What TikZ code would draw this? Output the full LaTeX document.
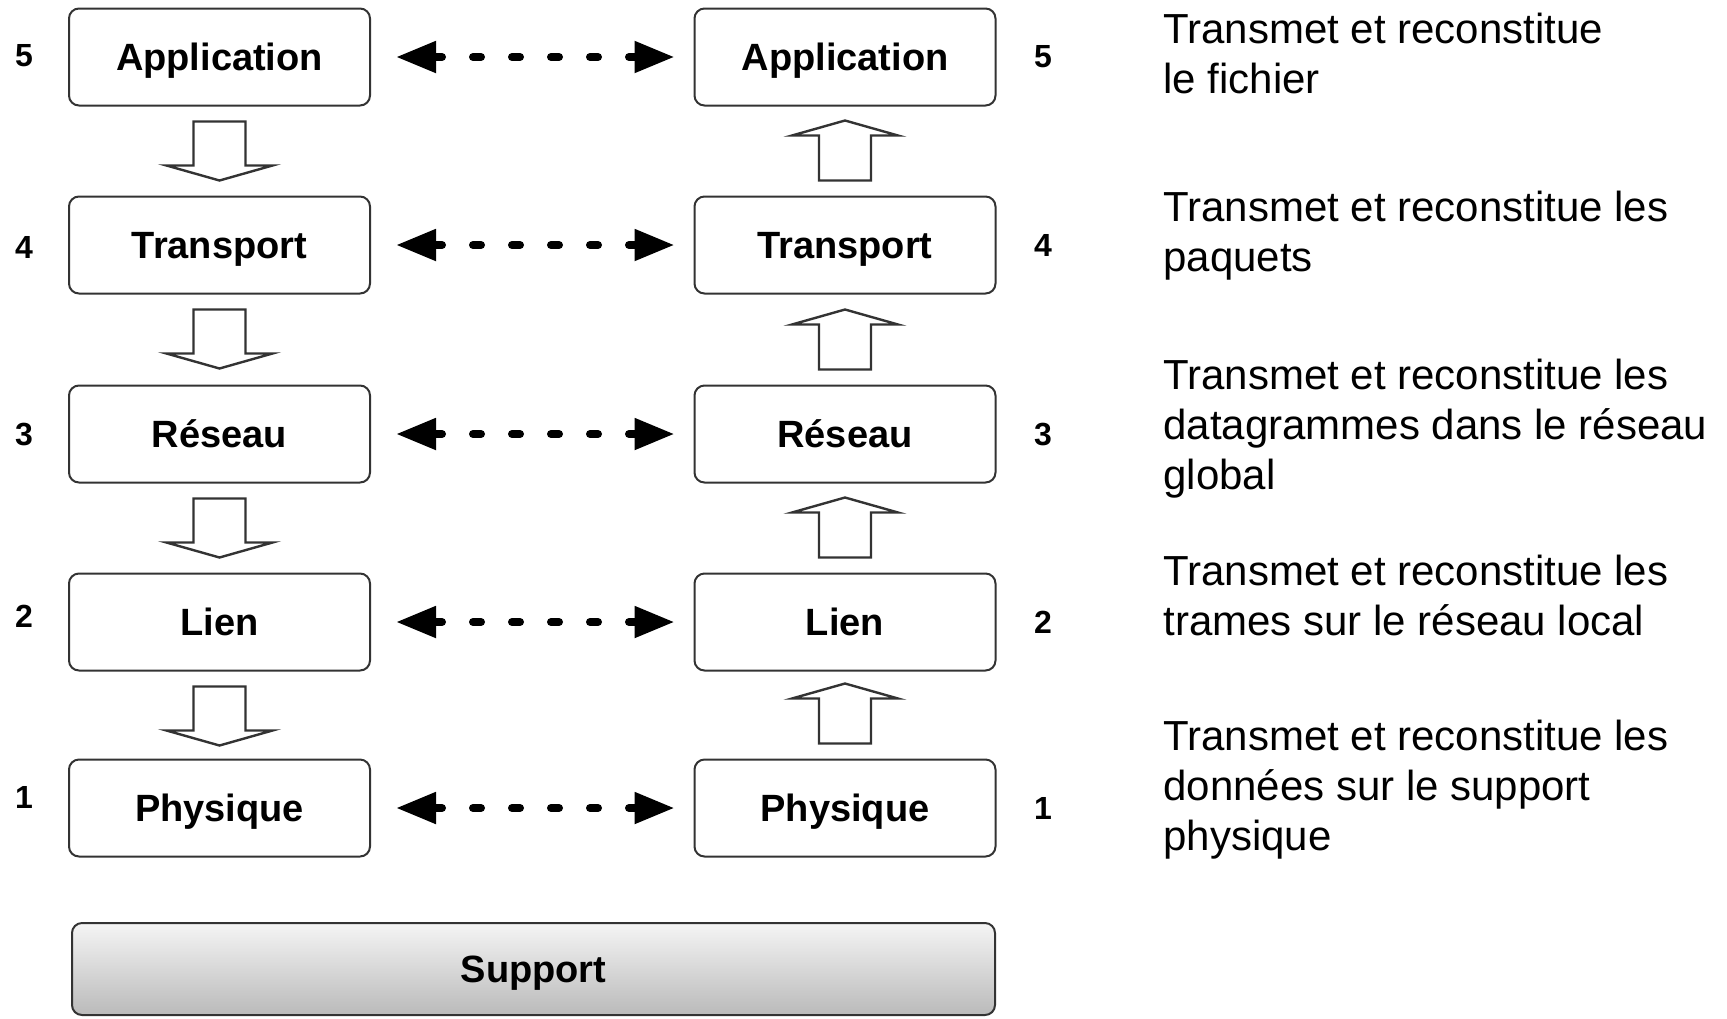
\documentclass[tikz,border=0pt]{standalone}
\usepackage{fontspec}
\setmainfont{Liberation Sans}
\usetikzlibrary{arrows.meta}
\begin{document}
\begin{tikzpicture}[x=0.5pt,y=-0.5pt,
  layer/.style={draw=black!80,line width=1pt,rounded corners=5pt,minimum width=150.5pt,minimum height=48.5pt,outer sep=0pt,text depth=0pt,font=\fontsize{19pt}{22pt}\selectfont\bfseries},
  num/.style={font=\fontsize{16pt}{18pt}\selectfont\bfseries},
  desc/.style={anchor=base west,align=left,inner sep=0pt,font=\fontsize{21pt}{25pt}\selectfont},
  peer/.style={line width=4pt,line cap=round,dash pattern=on 4pt off 15.5pt,{Triangle[length=20pt,width=15pt]}-{Triangle[length=20pt,width=15pt]}},
  blockarrow/.style={draw=black!80,line width=1.2pt,fill=white,line join=miter}]
\useasboundingbox (0,0) rectangle (1727,1018);
\foreach \n/\name/\y/\ny in {5/Application/57/56,4/Transport/245/247,3/Réseau/434/434,2/Lien/622/616,1/Physique/808/797}{
  \node[layer] (L\n) at (219.5,\y) {\name};
  \node[layer] (R\n) at (845,\y) {\name};
  \node[num] (nl\n) at (24,\ny) {\n};
  \node[num] (nr\n) at (1043,\y) {\n};
  \draw[peer] ([xshift=13pt]L\n.east) -- ([xshift=-10pt]R\n.west);
}
\foreach \n in {5,4,3,2}
  \draw[blockarrow] (L\n.south) ++(-26,16) -- ++(0,44) -- ++(-27,0) -- ++(53,15) -- ++(53,-15) -- ++(-27,0) -- ++(0,-44) -- cycle;
\foreach \n in {4,3,2,1}
  \draw[blockarrow] (R\n.north) ++(-26,-16) -- ++(0,-45) -- ++(-27,0) -- ++(53,-15) -- ++(53,15) -- ++(-27,0) -- ++(0,45) -- cycle;
\node[layer,minimum width=461.5pt,minimum height=46pt,top color=black!4,bottom color=black!27] (sup) at (533.5,969) {Support};
\node[desc] (d5) at (1163,93) {Transmet et reconstitue\\le fichier};
\node[desc] (d4) at (1163,271) {Transmet et reconstitue les\\paquets};
\node[desc] (d3) at (1163,489) {Transmet et reconstitue les\\datagrammes dans le réseau\\global};
\node[desc] (d2) at (1163,635) {Transmet et reconstitue les\\trames sur le réseau local};
\node[desc] (d1) at (1163,850) {Transmet et reconstitue les\\données sur le support\\physique};
\end{tikzpicture}
\end{document}
